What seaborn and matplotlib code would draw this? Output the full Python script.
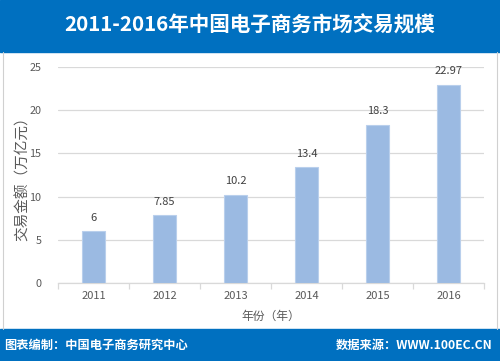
import matplotlib
matplotlib.use("Agg")
import matplotlib.pyplot as plt
import matplotlib.patches as mpatches
import seaborn as sns
import pandas as pd

# data
years = ["2011", "2012", "2013", "2014", "2015", "2016"]
values = [6, 7.85, 10.2, 13.4, 18.3, 22.97]
value_labels = ["6", "7.85", "10.2", "13.4", "18.3", "22.97"]
yticks = [0, 5, 10, 15, 20, 25]

title = "2011-2016年中国电子商务市场交易规模"
xlabel = "年份（年）"
ylabel = "交易金额（万亿元）"
footer_left = "图表编制：中国电子商务研究中心"
footer_right = "数据来源：WWW.100EC.CN"

sns.set_theme(style="white")
plt.rcParams['font.family'] = ['Noto Sans CJK SC', 'DejaVu Sans']

df = pd.DataFrame({"year": years, "value": values})

blue = "#0070C0"
bar_color = "#9BBAE2"
grid_color = "#D9D9D9"
text_gray = "#595959"

fig = plt.figure(figsize=(5.0, 3.61), dpi=100)

# header / footer bars and side borders
fig.patches.append(mpatches.Rectangle((0, 1 - 52 / 361), 1, 52 / 361, transform=fig.transFigure,
                                      color=blue, zorder=0))
fig.patches.append(mpatches.Rectangle((0, 0), 1, 32 / 361, transform=fig.transFigure,
                                      color=blue, zorder=0))
for x in [3 / 500, 497 / 500]:
    fig.add_artist(plt.Line2D([x, x], [32 / 361, 1 - 52 / 361], transform=fig.transFigure,
                              color="#D0D0D0", lw=0.8))

fig.text(0.5, 1 - 25 / 361, title, ha="center", va="center", color="white",
         fontsize=14.8, fontweight="bold")
fig.text(0.008, 16 / 361, footer_left, ha="left", va="center", color="white",
         fontsize=8.8, fontweight="bold")
fig.text(0.984, 16 / 361, footer_right, ha="right", va="center", color="white",
         fontsize=8.8, fontweight="bold")

ax = fig.add_axes([58 / 500, 1 - 283 / 361, 426 / 500, 216 / 361])
sns.barplot(data=df, x="year", y="value", color=bar_color, saturation=1, width=0.31,
            edgecolor="#B9CFEC", linewidth=0.8, ax=ax, zorder=3)

ax.set_ylim(0, 25)
ax.set_xlim(-0.5, len(years) - 0.5)
ax.set_yticks(yticks)
ax.yaxis.grid(True, color=grid_color, lw=0.9, zorder=0)
ax.set_axisbelow(True)
for s in ["top", "right", "left"]:
    ax.spines[s].set_visible(False)
ax.spines["bottom"].set_color(grid_color)
ax.spines["bottom"].set_linewidth(0.9)

ax.set_xticks([i - 0.5 for i in range(len(years) + 1)], minor=True)
ax.tick_params(axis="x", which="minor", length=4, color=grid_color, width=0.9, bottom=True)
ax.tick_params(axis="x", which="major", length=0, pad=6, labelsize=8, labelcolor=text_gray)
ax.tick_params(axis="y", length=0, pad=12, labelsize=7.8, labelcolor=text_gray)

for i, (v, lab) in enumerate(zip(values, value_labels)):
    ax.text(i, v + 1.0, lab, ha="center", va="bottom", fontsize=8, color="#404040")

ax.set_xlabel(xlabel, fontsize=8.5, color=text_gray)
ax.xaxis.set_label_coords(0.5, -0.125)
ax.set_ylabel(ylabel, fontsize=10.5, color=text_gray)
ax.yaxis.set_label_coords(-0.066, 0.5)

fig.savefig("out.png", dpi=100)
